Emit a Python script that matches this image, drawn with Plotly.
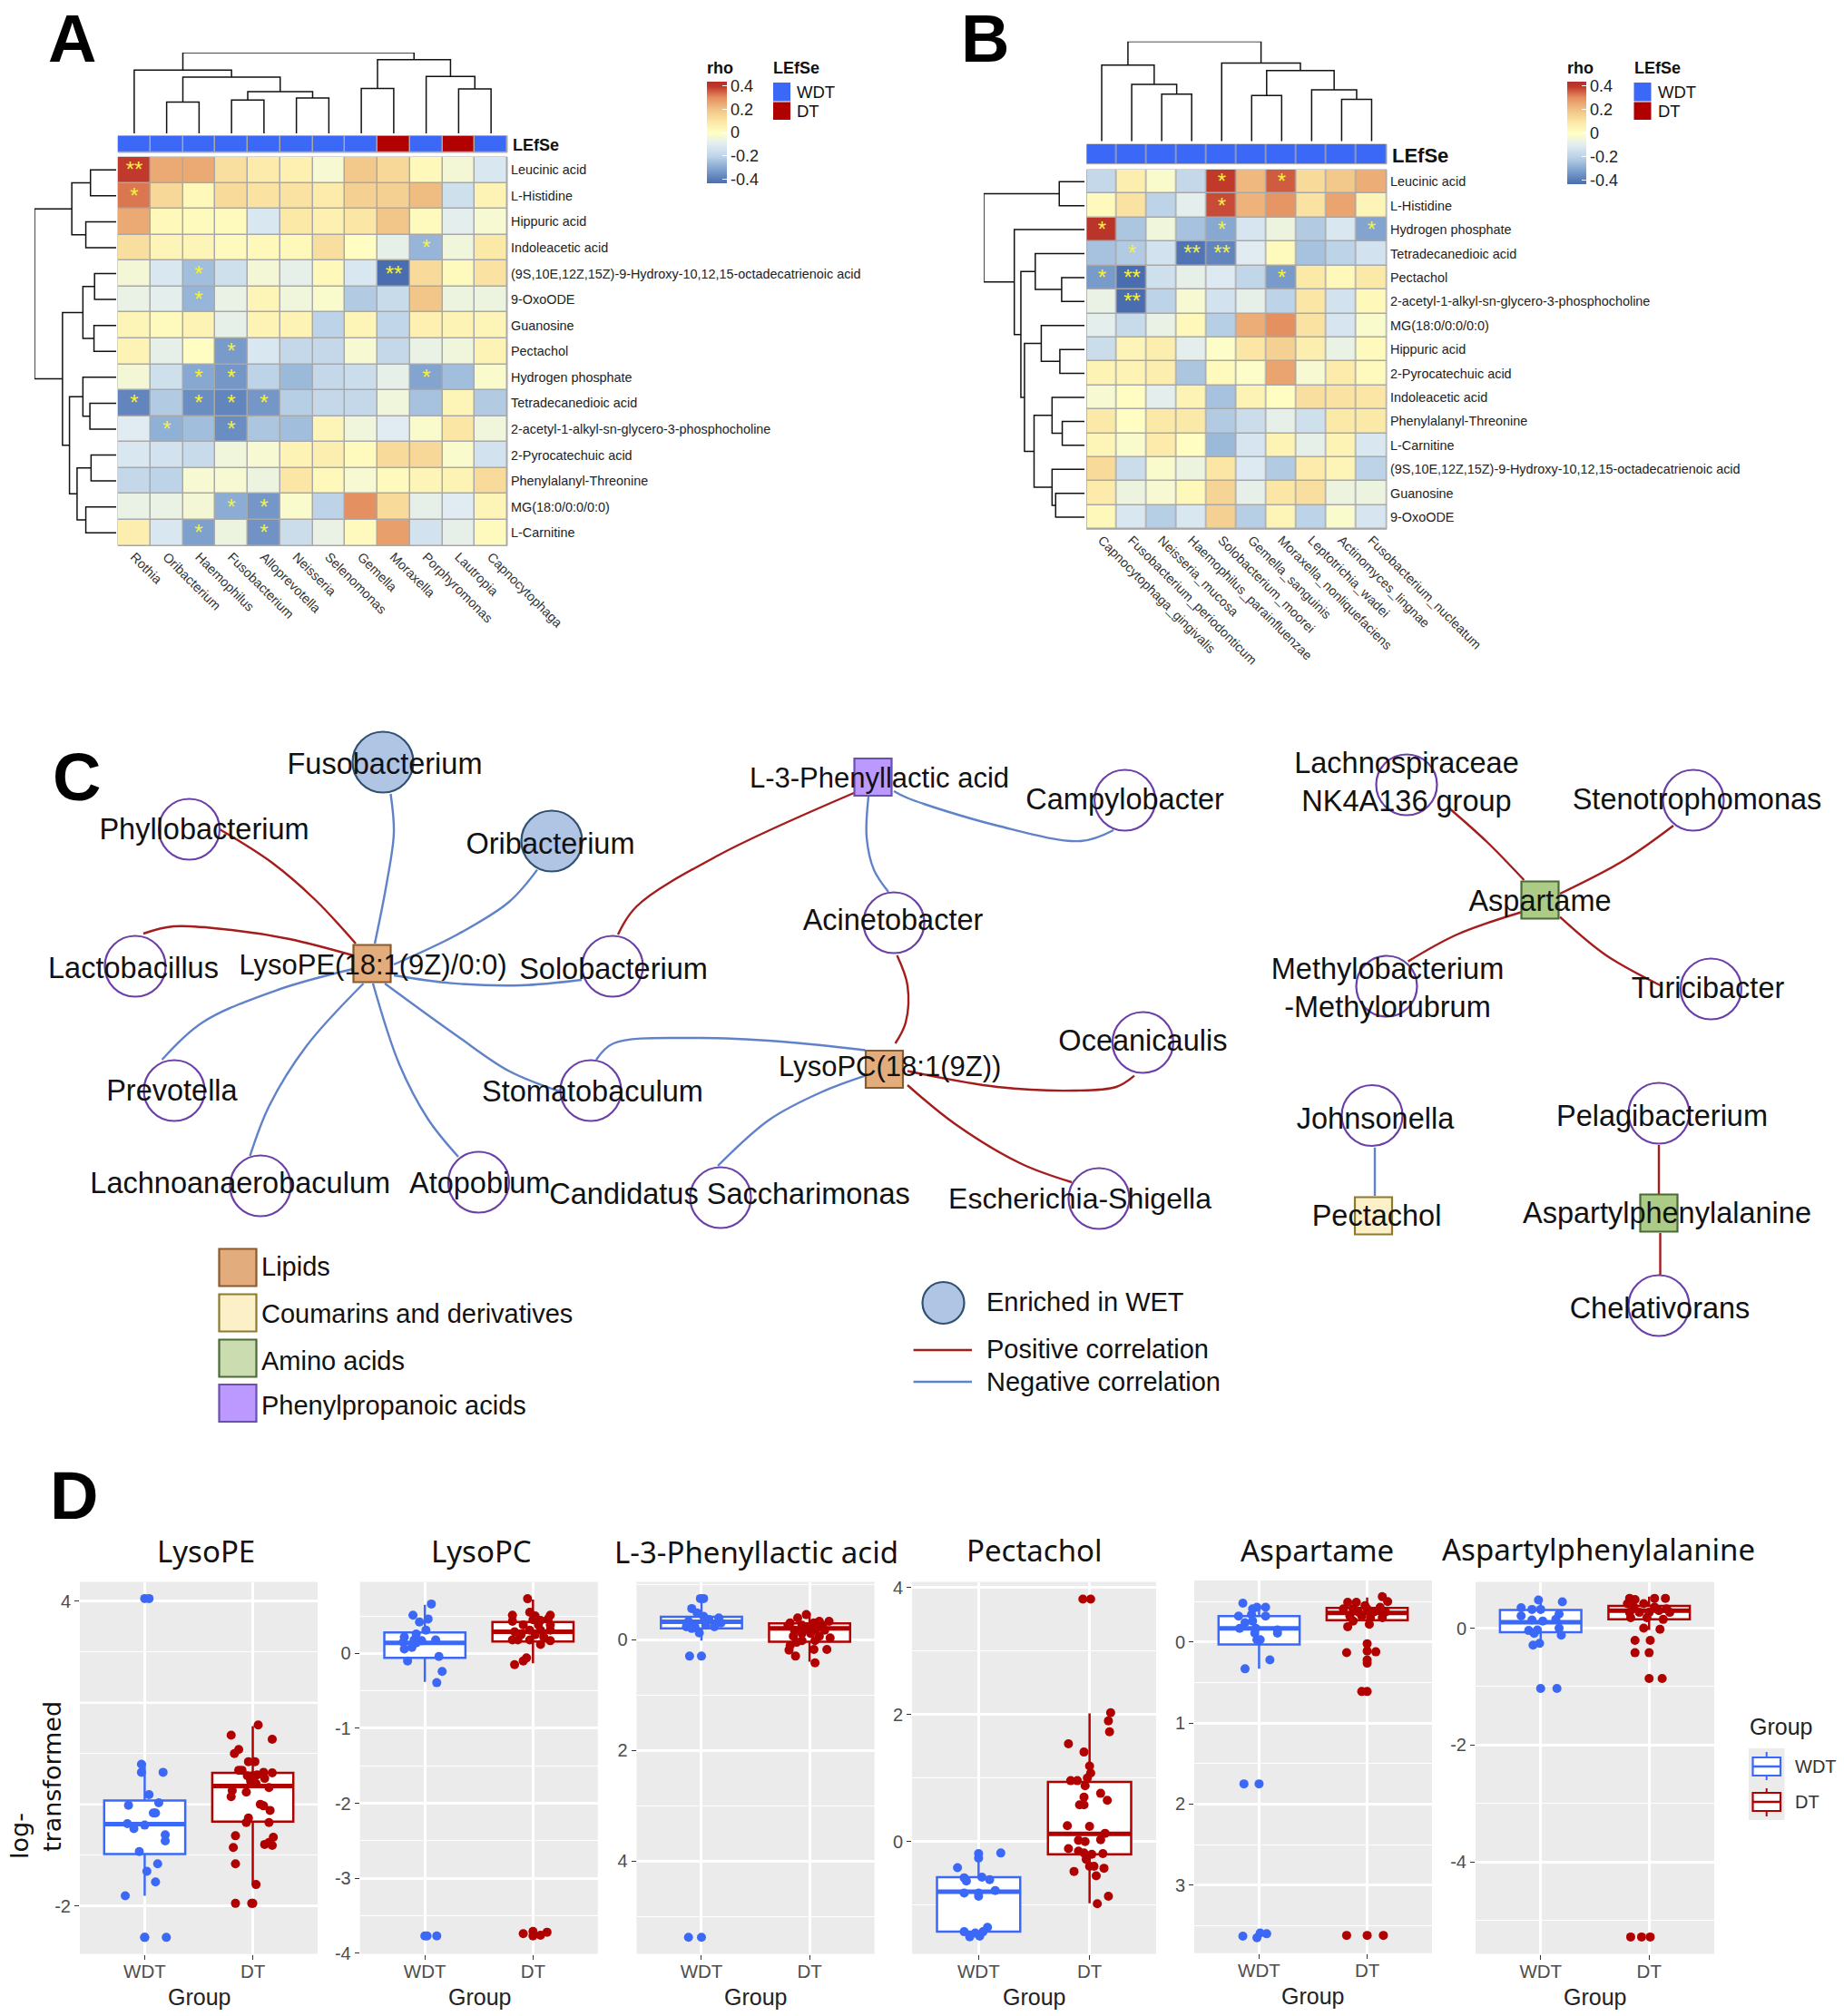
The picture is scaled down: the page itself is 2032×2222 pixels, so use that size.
import plotly.graph_objects as go

W, H = 2032, 2222

# ---------- Panel A data ----------
a_cols = ["Rothia","Oribacterium","Haemophilus","Fusobacterium","Alloprevotella","Neisseria","Selenomonas","Gemella","Moraxella","Porphyromonas","Lautropia","Capnocytophaga"]
a_rows = ["Leucinic acid","L-Histidine","Hippuric acid","Indoleacetic acid","(9S,10E,12Z,15Z)-9-Hydroxy-10,12,15-octadecatrienoic acid","9-OxoODE","Guanosine","Pectachol","Hydrogen phosphate","Tetradecanedioic acid","2-acetyl-1-alkyl-sn-glycero-3-phosphocholine","2-Pyrocatechuic acid","Phenylalanyl-Threonine","MG(18:0/0:0/0:0)","L-Carnitine"]
a_rho = [
 [.40,.25,.25,.12,.08,.06,-.03,.18,.14,.03,-.04,-.12],
 [.33,.14,.03,.13,.11,.11,.08,.16,.16,.21,-.15,.05],
 [.25,.03,.02,.02,-.12,.09,.06,.10,.19,.02,-.09,-.03],
 [.12,.04,.04,.02,.03,.03,.12,.01,-.08,-.27,-.05,.09],
 [-.04,-.12,-.25,-.15,-.04,-.08,.03,-.12,-.44,.13,.02,.11],
 [-.07,-.09,-.27,-.07,.04,-.05,-.02,-.22,-.17,.19,-.06,-.06],
 [.04,.02,.05,-.08,.05,.05,-.2,.04,-.19,.06,.05,.04],
 [.05,-.08,.01,-.33,-.12,-.18,-.18,-.03,-.18,-.07,-.05,.05],
 [-.04,-.15,-.3,-.34,-.2,-.26,-.18,-.16,-.08,-.31,-.25,-.02],
 [-.38,-.22,-.36,-.38,-.34,-.21,-.18,-.18,-.05,-.24,.04,-.22],
 [-.1,-.28,-.25,-.36,-.23,-.25,.04,-.05,-.1,-.02,.1,-.05],
 [-.12,-.14,-.17,-.05,-.03,.05,.07,.02,.13,.14,-.02,-.14],
 [-.18,-.2,-.03,-.03,-.06,.1,.03,-.03,.02,.04,.05,.13],
 [-.07,-.07,-.04,-.29,-.34,-.02,-.2,.3,.13,-.08,-.1,.04],
 [.07,-.12,-.32,-.06,-.35,-.16,-.07,.02,.27,-.14,-.08,.02],
]
a_stars = {(0,0):"**",(1,0):"*",(3,9):"*",(4,2):"*",(4,8):"**",(5,2):"*",(7,3):"*",(8,2):"*",(8,3):"*",(8,9):"*",(9,0):"*",(9,2):"*",(9,3):"*",(9,4):"*",(10,1):"*",(10,3):"*",(13,3):"*",(13,4):"*",(14,2):"*",(14,4):"*"}
a_lefse = ["WDT","WDT","WDT","WDT","WDT","WDT","WDT","WDT","DT","WDT","DT","WDT"]
a_top_tree = (194,(152,0,(135,(75,1,2),(100,(80,3,4),(85,5,6)))),(177,(108,7,8),(137,9,(107,10,11))))
a_left_tree = (140,(76,(44,0,1),(52,2,3)),(92,(57,(37,4,5),(38,6,7)),(80,(57,8,(45,9,10)),(67,(43,11,12),(52,13,14)))))

# ---------- Panel B data ----------
b_cols = ["Capnocytophaga_gingivalis","Fusobacterium_periodonticum","Neisseria_mucosa","Haemophilus_parainfluenzae","Solobacterium_moorei","Gemella_sanguinis","Moraxella_nonliquefaciens","Leptotrichia_wadei","Actinomyces_lingnae","Fusobacterium_nucleatum"]
b_rows = ["Leucinic acid","L-Histidine","Hydrogen phosphate","Tetradecanedioic acid","Pectachol","2-acetyl-1-alkyl-sn-glycero-3-phosphocholine","MG(18:0/0:0/0:0)","Hippuric acid","2-Pyrocatechuic acid","Indoleacetic acid","Phenylalanyl-Threonine","L-Carnitine","(9S,10E,12Z,15Z)-9-Hydroxy-10,12,15-octadecatrienoic acid","Guanosine","9-OxoODE"]
b_rho = [
 [-.18,.07,-.02,-.18,.4,.22,.36,.13,.18,.24],
 [.02,.11,-.2,-.09,.38,.23,.29,.11,.26,.04],
 [.42,-.23,-.05,-.24,-.3,-.13,-.06,-.22,-.12,-.31],
 [-.24,-.22,-.14,-.42,-.38,-.1,.02,-.24,-.2,-.14],
 [-.33,-.44,-.15,-.08,-.11,-.19,-.33,.09,.03,.09],
 [-.07,-.44,-.2,-.03,-.14,-.08,-.2,.1,-.14,.03],
 [-.09,-.17,-.07,.03,-.21,.24,.3,.11,-.13,-.02],
 [-.16,.04,.07,-.09,-.01,.1,.16,.07,-.07,.02],
 [.05,.05,.07,-.23,.02,-.01,.26,-.03,.08,.02],
 [-.03,.01,-.09,.05,-.24,.05,.01,.12,.11,.1],
 [.09,.01,.09,.09,-.22,-.16,-.08,-.15,.09,.09],
 [.04,-.02,.08,.01,-.26,-.13,.05,-.08,.05,-.12],
 [.13,-.16,-.02,-.06,.1,-.11,-.22,.08,.04,-.2],
 [.08,-.06,-.03,.03,.15,-.08,.1,.12,-.06,-.06],
 [.03,-.12,-.21,-.12,.16,-.21,.04,-.2,-.02,-.13],
]
b_stars = {(0,4):"*",(0,6):"*",(1,4):"*",(2,0):"*",(2,4):"*",(2,9):"*",(3,1):"*",(3,3):"**",(3,4):"**",(4,0):"*",(4,1):"**",(4,6):"*",(5,1):"**"}
b_lefse = ["WDT"]*10
b_top_tree = (233,(178,0,(133,1,(110,2,3))),(183,4,(165,(107,5,6),(120,7,(98,8,9)))))
b_left_tree = (168,(42,0,1),(117,2,(106,(82,3,(38,4,5)),(100,(72,6,(41,7,8)),(84,(54,9,(37,10,11)),(54,12,(48,13,14)))))))
rho_levels = [-.435,-.4,-.36,-.32,-.28,-.24,-.2,-.16,-.12,-.08,-.04,0,.04,.08,.12,.16,.2,.24,.28,.32,.36,.4,.435]

# ---------- Panel C data ----------
circle_names = ["Phyllobacterium","Lactobacillus","Solobacterium","Prevotella","Stomatobaculum","Lachnoanaerobaculum","Atopobium","Candidatus Saccharimonas","Acinetobacter","Campylobacter","Oceanicaulis","Escherichia-Shigella","Lachnospiraceae NK4A136 group","Stenotrophomonas","Methylobacterium-Methylorubrum","Turicibacter","Johnsonella","Pelagibacterium","Chelativorans"]
circle_x = [208.5,149,675,192,651,287,527.4,794,985,1239.6,1259.4,1211,1550,1866,1528,1885.4,1512,1828,1828]
circle_y = [914,1065,1065,1202,1202,1307,1303,1320,1017,882,1149,1321,865,882,1087,1090,1229.5,1227,1439]
enriched_names = ["Fusobacterium","Oribacterium"]
enriched_x = [422,608]
enriched_y = [840,927]
square_names = ["LysoPE(18:1(9Z)/0:0)","L-3-Phenyllactic acid","LysoPC(18:1(9Z))","Aspartame","Pectachol","Aspartylphenylalanine"]
square_x = [410,962,974.5,1697,1513.5,1828]
square_y = [1062,856.5,1178.5,992,1340,1337]
square_class = ["Lipids","Phenylpropanoic acids","Lipids","Amino acids","Coumarins and derivatives","Amino acids"]
label_text = ["Fusobacterium","Oribacterium","Phyllobacterium","Lactobacillus","LysoPE(18:1(9Z)/0:0)","Solobacterium","Prevotella","Stomatobaculum","Lachnoanaerobaculum","Atopobium","Candidatus Saccharimonas","L-3-Phenyllactic acid","Acinetobacter","LysoPC(18:1(9Z))","Campylobacter","Oceanicaulis","Escherichia-Shigella","Lachnospiraceae<br>NK4A136 group","Stenotrophomonas","Aspartame","Methylobacterium<br>-Methylorubrum","Turicibacter","Johnsonella","Pectachol","Pelagibacterium","Aspartylphenylalanine","Chelativorans"]
label_x = [424,606.5,225,147,411,676,189.4,653,264.7,528.7,804,969,984,980.7,1239.6,1259.4,1190,1550,1870,1697,1529,1882,1515.5,1517,1831.5,1837,1829]
label_y = [845,933,916.7,1070,1066,1071,1205,1206,1307,1307,1319,860,1017,1178,883.5,1150,1324,865,884,996,1092,1092,1235.5,1343,1233,1340,1445]
label_size = [32.5,32.5,32.5,32.5,31,32.5,32.5,32.5,32.5,32.5,32.5,31,32.5,31,32.5,32.5,32,32.5,32.5,32.5,32.5,32.5,32.5,32.5,32.5,32.5,32.5]
pos_edges = [
 [(392,1040),(347.6,992),(300,951),(242,914)],
 [(389,1053),(319,1035),(255,1025),(191,1021),(158,1029)],
 [(681,1030),(701.5,999),(791,943),(941,874)],
 [(988.5,1053),(1000,1086),(998,1127),(986.6,1150)],
 [(1000,1180.5),(1099,1198),(1184,1202),(1230,1198),(1250,1185.6)],
 [(1000,1196),(1052.7,1239),(1125,1282.5),(1181,1303)],
 [(1596,890),(1638.6,928),(1679.4,970)],
 [(1844,910),(1790,948),(1719,985)],
 [(1551.7,1059.6),(1605.6,1030),(1676,1005.5)],
 [(1719,1010.6),(1770,1053),(1829.5,1086)],
 [(1828,1262),(1828,1316)],
 [(1829.5,1359),(1829.5,1405)],
]
neg_edges = [
 [(413,1040),(426,974),(434,918),(430.5,875)],
 [(434,1063),(504,1030),(561,994),(592,958.6)],
 [(434,1075),(497,1083.6),(574,1086),(641,1080)],
 [(389,1068),(306,1091),(223,1127),(178.6,1168)],
 [(400.5,1084),(338,1152.5),(296.6,1219),(275.5,1274)],
 [(411,1084),(440,1173),(472,1234),(505,1275)],
 [(424,1084),(504,1142),(561,1180.5),(617,1203)],
 [(957,878),(955,923),(963,958.6),(979,983)],
 [(985,872),(1000,879.5),(1099,910),(1191,927),(1227,915)],
 [(657,1168),(676,1150),(765,1144),(861,1148),(953.4,1157.5)],
 [(791,1285),(848,1234),(905.6,1203.5),(953.4,1185.6)],
 [(1515,1264.7),(1515,1318)],
]
class_names = ["Lipids","Coumarins and derivatives","Amino acids","Phenylpropanoic acids"]

# ---------- Panel D data: box = ascending five values ----------
groups = ["WDT","DT"]
lysope_wdt_box = [-1.8,-.98,-.39,.075,.82]
lysope_dt_box = [-1.58,-.34,.36,.62,1.54]
lysope_wdt_dx = [0,.04,-.03,-.03,.17,.04,-.15,.13,.1,.08,-.16,-.1,0,.19,.19,-.05,.12,.02,.1,-.18,0,0,.2]
lysope_wdt_y = [4.05,4.05,.79,.63,.63,.19,-.02,.03,-.17,-.17,-.38,-.48,-.41,-.6,-.72,-.93,-1.17,-1.32,-1.53,-1.8,-2.62,-2.62,-2.62]
lysope_dt_dx = [.05,-.2,.18,-.13,-.17,-.04,.02,-.1,-.13,-.05,0,.04,.1,.18,.11,-.02,.03,-.19,-.2,-.06,.15,.07,.1,.16,-.04,-.06,.15,-.16,.19,.15,.11,.18,-.18,-.16,.03,-.16,0,-.01]
lysope_dt_y = [1.56,1.36,1.28,1.08,1.0,.84,.84,.67,.67,.56,.56,.58,.63,.62,.51,.46,.41,.27,.15,.24,.33,0,-.03,-.12,-.27,-.36,-.36,-.62,-.65,-.75,-.79,-.81,-.85,-1.17,-1.58,-1.95,-1.95,-1.95]

lysopc_wdt_box = [-.38,-.06,.14,.28,.65]
lysopc_dt_box = [-.13,.16,.29,.42,.72]
lysopc_wdt_dx = [.06,-.11,.03,-.05,.01,-.08,-.19,-.2,-.1,-.03,.1,-.19,-.12,-.08,.13,-.16,.16,.11,0,.02,.11]
lysopc_wdt_y = [.66,.51,.46,.42,.31,.26,.22,.15,.18,.17,.18,.06,.08,.14,-.04,-.1,-.24,-.39,-3.77,-3.77,-3.77]
lysopc_dt_dx = [-.05,-.19,-.03,.02,.16,.14,-.19,0,.07,-.09,.05,.16,-.17,-.03,.07,.16,-.11,.02,.1,-.19,-.14,-.03,.16,.07,-.06,-.09,-.17,-.09,0,0,.07,.13]
lysopc_dt_y = [.73,.51,.55,.5,.51,.46,.43,.45,.44,.38,.38,.38,.29,.31,.31,.31,.25,.25,.22,.18,.18,.18,.17,.12,-.06,-.1,-.15,-3.74,-3.71,-3.77,-3.76,-3.72]

phenyl_wdt_box = [-.74,-.41,-.32,-.2,.02]
phenyl_dt_box = [-.48,-.29,-.2,.04,.4]
phenyl_wdt_dx = [.02,-.01,-.09,-.04,.02,-.12,.07,.16,.04,.18,-.14,-.06,.12,-.02,-.09,-.11,0,-.12,0]
phenyl_wdt_y = [-.74,-.74,-.56,-.48,-.42,-.33,-.36,-.39,-.26,-.3,-.23,-.23,-.23,-.12,-.2,.3,.3,5.38,5.38]
phenyl_dt_dx = [-.03,-.11,.09,.18,-.18,-.07,.04,.12,-.2,-.02,-.14,.06,.14,-.07,.01,-.15,.09,.19,-.07,.05,-.18,-.12,-.19,.04,.16,-.13,.05]
phenyl_dt_y = [-.45,-.39,-.33,-.33,-.3,-.26,-.3,-.26,-.25,-.2,-.17,-.18,-.17,-.11,-.11,-.06,-.06,-.03,.02,.02,.11,.05,.19,.18,.18,.3,.42]

pectachol_wdt_box = [-1.49,-1.42,-.79,-.56,-.23]
pectachol_dt_box = [-.97,-.2,.12,.94,2.02]
pectachol_wdt_dx = [.2,0,0,-.19,-.13,-.11,.03,.1,.15,-.13,0,0,-.13,.08,.04,-.03,-.08,.01]
pectachol_wdt_y = [-.18,-.19,-.26,-.41,-.57,-.62,-.56,-.6,-.77,-.81,-.81,-.86,-1.42,-1.35,-1.42,-1.44,-1.5,-1.49]
pectachol_dt_dx = [-.06,.01,.19,.17,.18,-.19,-.05,0,.01,-.02,-.17,-.11,-.04,.1,-.05,.16,-.09,-.05,-.2,0,.14,.1,-.1,-.04,-.19,-.1,-.05,.02,.12,-.03,0,.04,.13,-.14,.06,.17,.07]
pectachol_dt_y = [3.82,3.82,2.03,1.9,1.73,1.54,1.41,1.19,1.08,1,.96,.96,.88,.76,.7,.65,.58,.58,.25,.24,.13,.03,.02,0,-.11,-.15,-.18,-.2,-.19,-.28,-.39,-.39,-.42,-.47,-.54,-.86,-.98]

aspartame_wdt_box = [-.46,-.32,-.17,.03,.33]
aspartame_dt_box = [-.55,-.42,-.36,-.27,-.19]
aspartame_wdt_dx = [-.15,-.02,.06,-.06,-.19,-.07,.06,-.13,-.06,-.03,-.18,.17,.17,-.04,-.02,.01,.1,-.13,-.14,0,-.15,-.02,.01,.07]
aspartame_wdt_y = [-.48,-.43,-.43,-.41,-.32,-.34,-.32,-.24,-.26,-.17,-.17,-.15,-.11,-.11,-.03,-.03,.22,.33,1.75,1.75,3.63,3.65,3.59,3.6]
aspartame_dt_dx = [.14,-.18,-.1,.19,-.02,.12,-.22,-.13,0,-.08,.06,.17,-.16,-.05,.03,.14,-.13,.02,-.18,0,0,-.19,.08,0,0,-.05,0,-.19,0,.15]
aspartame_dt_y = [-.56,-.49,-.49,-.5,-.45,-.43,-.41,-.41,-.41,-.37,-.37,-.37,-.32,-.32,-.3,-.3,-.26,-.22,-.19,.02,.11,.13,.12,.22,.26,.61,.61,3.62,3.62,3.62]

aspartyl_wdt_box = [-.33,-.07,.1,.31,.49]
aspartyl_dt_box = [-.03,.15,.3,.38,.54]
aspartyl_wdt_dx = [-.02,.2,-.18,-.08,0,.17,-.18,-.08,.02,.14,-.11,-.03,.17,-.06,.19,-.01,-.07,0,.15]
aspartyl_wdt_y = [.48,.45,.35,.32,.32,.24,.21,.14,.12,.15,-.04,-.03,0,-.09,-.12,-.26,-.29,-1.03,-1.03]
aspartyl_dt_dx = [-.18,-.13,.05,.15,-.2,-.05,-.14,.05,.16,-.18,-.09,0,.09,.19,-.17,-.02,.13,-.05,.1,-.13,.01,-.13,0,0,.12,-.17,-.07,.01]
aspartyl_dt_y = [.51,.49,.51,.51,.42,.42,.36,.36,.33,.27,.27,.27,.3,.27,.18,.18,.15,0,-.02,-.21,-.21,-.42,-.42,-.86,-.86,-5.28,-5.28,-5.28]

# ---------- Styling ----------
SANS = "Liberation Sans"
BLUE, RED = "#3B68F6", "#B00000"
POS, NEG = "#A51C1C", "#5F82C8"
RHO_SCALE = [[0,"#4A6DB0"],[.17,"#8CAED4"],[.27,"#BDD3E7"],[.385,"#E0ECF2"],[.5,"#FFFFC4"],[.615,"#FBE6A5"],[.73,"#F0C285"],[.845,"#E59060"],[.96,"#C0392B"],[1,"#B5302A"]]
CLASS_FILL = {"Lipids":"#E2AC7D","Coumarins and derivatives":"#FBF0C8","Amino acids":"#ABCB86","Phenylpropanoic acids":"#BB99FF"}
CLASS_LINE = {"Lipids":"#8B5A2B","Coumarins and derivatives":"#8B7B2E","Amino acids":"#4A6B35","Phenylpropanoic acids":"#6A4FB3"}

fig = go.Figure()
layout_axes = {}
annots = []
shapes = []
axis_n = [0]

def dx(a, b): return [a / W, b / W]
def dy(top, bot): return [1 - bot / H, 1 - top / H]

def new_axes(xdom, ydom, xopts=None, yopts=None):
    axis_n[0] += 1
    n = axis_n[0]
    s = "" if n == 1 else str(n)
    base = dict(showgrid=False, zeroline=False, showticklabels=False, ticks="", showline=False, automargin=False)
    xa = dict(base, domain=xdom, anchor="y" + s); xa.update(xopts or {})
    ya = dict(base, domain=ydom, anchor="x" + s); ya.update(yopts or {})
    layout_axes["xaxis" + s] = xa
    layout_axes["yaxis" + s] = ya
    return "x" + s, "y" + s

def note(px, py, text, size=18, color="#111", anchor="center", family=SANS, angle=0):
    annots.append(dict(x=px / W, y=1 - py / H, xref="paper", yref="paper", text=text, showarrow=False,
                       xanchor=anchor, yanchor="middle", textangle=angle, font=dict(size=size, color=color, family=family)))

def dendro(tree):
    segs_i, segs_h = [], []
    def walk(t):
        if isinstance(t, int):
            return float(t), 0.0
        h, l, r = t
        li, lh = walk(l)
        ri, rh = walk(r)
        segs_i.extend([li, li, ri, ri, None])
        segs_h.extend([lh, h, h, rh, None])
        return (li + ri) / 2, h
    walk(tree)
    return segs_i, segs_h

def heat_panel(cols, rows, rho, stars, lefse, top_tree, left_tree, hx, hy, sy, tx, lx, cb, legend_x, row_font, col_font, col_angle, lefse_xy, lefse_size):
    text = [[stars.get((r, c), "") for c in range(len(cols))] for r in range(len(rows))]
    xa, ya = new_axes(dx(*hx), dy(*hy),
                      dict(showticklabels=True, side="bottom", tickangle=col_angle, tickfont=dict(size=col_font, color="#333", family=SANS), ticklen=0),
                      dict(showticklabels=True, side="right", autorange="reversed", tickfont=dict(size=row_font, color="#222", family=SANS), ticklen=0, ticklabelstandoff=3))
    shapes.append(dict(type="rect", xref=xa + " domain", yref=ya + " domain", x0=0, x1=1, y0=0, y1=1, fillcolor="#A8A8A8", line_width=1, line_color="#A8A8A8", layer="below"))
    fig.add_trace(go.Heatmap(z=rho, x=cols, y=rows, zmin=-.435, zmax=.435, colorscale=RHO_SCALE, showscale=False, xgap=1.5, ygap=1.5,
                             text=text, texttemplate="%{text}", textfont=dict(size=24, color="#F5F040", family=SANS), hoverinfo="skip",
                             xaxis=xa, yaxis=ya))
    xk, yk = new_axes(dx(cb[0], cb[1]), dy(cb[2], cb[3]), dict(range=[-.5, .5]),
                      dict(range=[-.435, .435], side="right", showticklabels=True, tickvals=[-.4, -.2, 0, .2, .4], ticktext=["-0.4", "-0.2", "0", "0.2", "0.4"],
                           ticks="inside", ticklen=5, tickcolor="white", ticklabelstandoff=3, tickfont=dict(size=18, color="#222", family=SANS)))
    fig.add_trace(go.Heatmap(z=[[v] for v in rho_levels], x=[0], y=rho_levels, zmin=-.435, zmax=.435, colorscale=RHO_SCALE, showscale=False, zsmooth="best", hoverinfo="skip", xaxis=xk, yaxis=yk))
    xa2, ya2 = new_axes(dx(*hx), dy(*sy), dict(range=[-.5, len(cols) - .5]), dict(range=[-.5, .5]))
    shapes.append(dict(type="rect", xref=xa2 + " domain", yref=ya2 + " domain", x0=0, x1=1, y0=0, y1=1, fillcolor="#A8A8A8", line_width=1, line_color="#A8A8A8", layer="below"))
    fig.add_trace(go.Heatmap(z=[[1 if v == "DT" else 0 for v in lefse]], x=list(range(len(cols))), y=[0], zmin=0, zmax=1,
                             colorscale=[[0, BLUE], [1, RED]], showscale=False, xgap=1.5, ygap=1, hoverinfo="skip", xaxis=xa2, yaxis=ya2))
    note(lefse_xy[0], lefse_xy[1], "<b>LEfSe</b>", lefse_size, anchor="left")
    i, h = dendro(top_tree)
    xa3, ya3 = new_axes(dx(*hx), dy(*tx), dict(range=[-.5, len(cols) - .5]), dict(range=[0, top_tree[0]]))
    fig.add_trace(go.Scatter(x=i, y=h, mode="lines", line=dict(color="#111", width=1.5), xaxis=xa3, yaxis=ya3, hoverinfo="skip"))
    i, h = dendro(left_tree)
    xa4, ya4 = new_axes(dx(*lx), dy(*hy), dict(range=[left_tree[0], 0]), dict(range=[len(rows) - .5, -.5]))
    fig.add_trace(go.Scatter(x=h, y=i, mode="lines", line=dict(color="#111", width=1.5), xaxis=xa4, yaxis=ya4, hoverinfo="skip"))
    note(cb[0] - 2, 75, "<b>rho</b>", 18, anchor="left")
    note(legend_x - 2, 75, "<b>LEfSe</b>", 18, anchor="left")
    for t, c, y0, y1 in (("WDT", BLUE, 91, 111.5), ("DT", RED, 112.5, 132)):
        shapes.append(dict(type="rect", xref="paper", yref="paper", x0=legend_x / W, x1=(legend_x + 19) / W, y0=1 - y1 / H, y1=1 - y0 / H, fillcolor=c, line_width=0))
        note(legend_x + 24, (y0 + y1) / 2, t, 18.5, anchor="left")

heat_panel(a_cols, a_rows, a_rho, a_stars, a_lefse, a_top_tree, a_left_tree,
           (130, 559), (173, 601.5), (149.7, 168), (58, 147), (38, 128), (779, 801, 90, 202), 852, 14.4, 14.5, 45, (563, 160), 18)
heat_panel(b_cols, b_rows, b_rho, b_stars, b_lefse, b_top_tree, b_left_tree,
           (1197.5, 1528), (187, 583.3), (159, 180.7), (45.8, 155.7), (1084, 1195), (1727, 1748, 90, 203), 1800.5, 14.4, 14.4, 45, (1532, 171), 22)

def box_panel(xd, yd, yrange, tickvals, ticktext, minor, wb, db, wdx, wy, ddx, dy_, title, title_xy, group_xy, extra_grid=()):
    xa, ya = new_axes(dx(*xd), dy(*yd),
                      dict(range=[-.6, 1.6], tickvals=[0, 1], ticktext=groups, showticklabels=True, ticks="outside", ticklen=5, tickcolor="#333", ticklabelstandoff=-4,
                           tickfont=dict(size=20.5, color="#4D4D4D", family=SANS), showgrid=True, gridcolor="white", gridwidth=2.5),
                      dict(range=yrange, tickvals=tickvals, ticktext=ticktext, showticklabels=True, ticks="outside", ticklen=5, tickcolor="#333",
                           tickfont=dict(size=20, color="#4D4D4D", family=SANS), showgrid=True, gridcolor="white", gridwidth=2.5,
                           minor=dict(tickvals=minor, showgrid=True, gridcolor="white", gridwidth=1.3, ticks="")))
    shapes.append(dict(type="rect", xref=xa + " domain", yref=ya + " domain", x0=0, x1=1, y0=0, y1=1, fillcolor="#EBEBEB", line_width=0, layer="below"))
    for g in extra_grid:
        shapes.append(dict(type="line", xref=xa + " domain", yref=ya, x0=0, x1=1, y0=g, y1=g, line=dict(color="white", width=2.5), layer="below"))
    for pos, box, col, ddx_, yy in ((0, wb, BLUE, wdx, wy), (1, db, RED, ddx, dy_)):
        fig.add_trace(go.Box(x=[pos], lowerfence=[box[0]], q1=[box[1]], median=[box[2]], q3=[box[3]], upperfence=[box[4]], width=.75, whiskerwidth=0,
                             fillcolor="white", line=dict(color=col, width=2.5), boxpoints=False, xaxis=xa, yaxis=ya, hoverinfo="skip"))
        fig.add_trace(go.Scatter(x=[pos - .375, pos + .375], y=[box[2], box[2]], mode="lines", line=dict(color=col, width=5), xaxis=xa, yaxis=ya, hoverinfo="skip"))
        fig.add_trace(go.Scatter(x=[pos + d for d in ddx_], y=yy, mode="markers", marker=dict(color=col, size=10), xaxis=xa, yaxis=ya, hoverinfo="skip"))
    note(title_xy[0], title_xy[1], title, 33, "#111", family="Noto Sans")
    note(group_xy[0], group_xy[1], "Group", 25, "#222")

box_panel((88, 350), (1743.6, 2153.6), [-2.946, 4.377], [4, -2], ["4", "-2"], [3, 1, -1], lysope_wdt_box, lysope_dt_box, lysope_wdt_dx, lysope_wdt_y, lysope_dt_dx, lysope_dt_y, "LysoPE", (227, 1709), (219, 2201), extra_grid=(2, 0))
box_panel((396.7, 658.8), (1743.6, 2153.6), [-4.01, .954], [0, -1, -2, -3, -4], ["0", "-1", "-2", "-3", "-4"], [.5, -.5, -1.5, -2.5, -3.5], lysopc_wdt_box, lysopc_dt_box, lysopc_wdt_dx, lysopc_wdt_y, lysopc_dt_dx, lysopc_dt_y, "LysoPC", (530.6, 1709), (528, 2201))
box_panel((701.5, 963.6), (1743.6, 2153.6), [5.68, -1.04], [0, 2, 4], ["0", "2", "4"], [-1, 1, 3, 5], phenyl_wdt_box, phenyl_dt_box, phenyl_wdt_dx, phenyl_wdt_y, phenyl_dt_dx, phenyl_dt_y, "L-3-Phenyllactic acid", (833.5, 1710), (832, 2201))
box_panel((1005, 1274), (1743.6, 2153.6), [-1.77, 4.09], [4, 2, 0], ["4", "2", "0"], [3, 1, -1], pectachol_wdt_box, pectachol_dt_box, pectachol_wdt_dx, pectachol_wdt_y, pectachol_dt_dx, pectachol_dt_y, "Pectachol", (1140, 1708), (1139.6, 2201))
box_panel((1316, 1578), (1742, 2152.8), [3.84, -.76], [0, 1, 2, 3], ["0", "1", "2", "3"], [-.5, .5, 1.5, 2.5, 3.5], aspartame_wdt_box, aspartame_dt_box, aspartame_wdt_dx, aspartame_wdt_y, aspartame_dt_dx, aspartame_dt_y, "Aspartame", (1451, 1708), (1446, 2200))
box_panel((1626, 1889), (1743.6, 2153.6), [-5.57, .79], [0, -2, -4], ["0", "-2", "-4"], [-1, -3, -5], aspartyl_wdt_box, aspartyl_dt_box, aspartyl_wdt_dx, aspartyl_wdt_y, aspartyl_dt_dx, aspartyl_dt_y, "Aspartylphenylalanine", (1761, 1707), (1757, 2201))

note(21, 2024, "log-", 27, "#111", family="DejaVu Sans", angle=-90)
note(57, 1958, "transformed", 27, "#111", family="DejaVu Sans", angle=-90)

ox, oy = new_axes([0, 1], [0, 1], dict(range=[0, W]), dict(range=[H, 0]))
for edges, col in ((pos_edges, POS), (neg_edges, NEG)):
    for e in edges:
        fig.add_trace(go.Scatter(x=[p[0] for p in e], y=[p[1] for p in e], mode="lines", line=dict(color=col, width=2.4, shape="spline", smoothing=1), xaxis=ox, yaxis=oy, hoverinfo="skip"))
fig.add_trace(go.Scatter(x=circle_x, y=circle_y, mode="markers", marker=dict(symbol="circle", size=67, color="white", line=dict(color="#6A3FA8", width=2.2)), xaxis=ox, yaxis=oy, hoverinfo="skip"))
fig.add_trace(go.Scatter(x=enriched_x, y=enriched_y, mode="markers", marker=dict(symbol="circle", size=67, color="#B0C4E4", line=dict(color="#2F5070", width=2.2)), xaxis=ox, yaxis=oy, hoverinfo="skip"))
fig.add_trace(go.Scatter(x=square_x, y=square_y, mode="markers", marker=dict(symbol="square", size=41, color=[CLASS_FILL[c] for c in square_class], line=dict(color=[CLASS_LINE[c] for c in square_class], width=2.2)), xaxis=ox, yaxis=oy, hoverinfo="skip"))
fig.add_trace(go.Scatter(x=label_x, y=label_y, mode="text", text=label_text, textposition="middle center", textfont=dict(size=label_size, color="#111", family=SANS), xaxis=ox, yaxis=oy, hoverinfo="skip"))

key_x = [262, 262, 262, 262]
key_y = [1397, 1447, 1497, 1546.5]
key_fill = ["#E2AC7D", "#FBF0C8", "#CBDDB0", "#BB99FF"]
fig.add_trace(go.Scatter(x=key_x, y=key_y, mode="markers", marker=dict(symbol="square", size=41, color=key_fill, line=dict(color=[CLASS_LINE[c] for c in class_names], width=2.2)), xaxis=ox, yaxis=oy, hoverinfo="skip"))
for name, ty in zip(class_names, [1396, 1448, 1500, 1549]):
    note(286, ty, name, 29, "#111", anchor="left")
fig.add_trace(go.Scatter(x=[1039.5], y=[1436], mode="markers", marker=dict(symbol="circle", size=46, color="#B0C4E4", line=dict(color="#2F5070", width=2.2)), xaxis=ox, yaxis=oy, hoverinfo="skip"))
note(1084.5, 1435, "Enriched in WET", 29, "#111", anchor="left")
fig.add_trace(go.Scatter(x=[1006.6, 1071], y=[1488, 1488], mode="lines", line=dict(color=POS, width=2.4), xaxis=ox, yaxis=oy, hoverinfo="skip"))
fig.add_trace(go.Scatter(x=[1006.6, 1071], y=[1523, 1523], mode="lines", line=dict(color=NEG, width=2.4), xaxis=ox, yaxis=oy, hoverinfo="skip"))
note(1084.5, 1487, "Positive correlation", 29, "#111", anchor="left")
note(1084.5, 1522.5, "Negative correlation", 29, "#111", anchor="left")

note(1926, 1903, "Group", 25, "#222", anchor="left")
shapes.append(dict(type="rect", xref=ox, yref=oy, x0=1927, x1=1966.4, y0=1927, y1=2006, fillcolor="#EBEBEB", line_width=0, layer="below"))
for name, col, top, bot, wtop, wbot in (("WDT", BLUE, 1937, 1957, 1931, 1962), ("DT", RED, 1976, 1996, 1971, 2002)):
    shapes.append(dict(type="line", xref=ox, yref=oy, x0=1946.7, x1=1946.7, y0=wtop, y1=wbot, line=dict(color=col, width=2)))
    shapes.append(dict(type="rect", xref=ox, yref=oy, x0=1931.5, x1=1962, y0=top, y1=bot, fillcolor="white", line=dict(color=col, width=2.2)))
    shapes.append(dict(type="line", xref=ox, yref=oy, x0=1931.5, x1=1962, y0=(top + bot) / 2, y1=(top + bot) / 2, line=dict(color=col, width=2.5)))
    fig.add_trace(go.Scatter(x=[1946.7], y=[(top + bot) / 2], mode="markers", marker=dict(color=col, size=10), xaxis=ox, yaxis=oy, hoverinfo="skip"))
    note(1976, (top + bot) / 2, name, 20, "#333", anchor="left")

for letter, lx_, ly_ in (("A", 79, 43), ("B", 1085, 43), ("C", 84, 857), ("D", 81, 1648)):
    note(lx_, ly_, "<b>" + letter + "</b>", 74, "#000")

fig.update_layout(width=W, height=H, margin=dict(l=0, r=0, t=0, b=0, pad=0, autoexpand=False), paper_bgcolor="white", plot_bgcolor="rgba(0,0,0,0)",
                  showlegend=False, annotations=annots, shapes=shapes, boxmode="overlay", **layout_axes)
fig.write_html("out.html", post_script="document.body.style.margin='0';", config={"displayModeBar": False})
